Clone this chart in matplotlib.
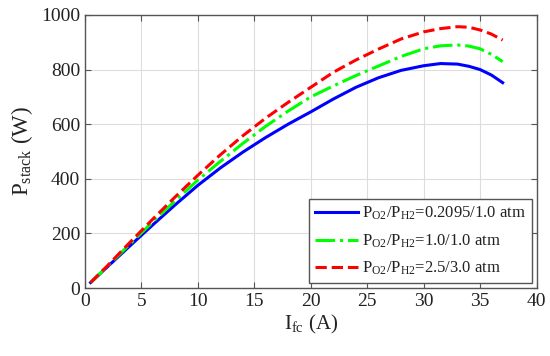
import matplotlib

matplotlib.use("Agg")
import matplotlib.pyplot as plt

plt.rcParams['font.family'] = 'Liberation Serif'
plt.rcParams['mathtext.fontset'] = 'custom'
plt.rcParams['mathtext.rm'] = 'Liberation Serif'
plt.rcParams['mathtext.it'] = 'Liberation Serif:italic'

# Stack current (A)
current = [0.5, 2, 4, 6, 8, 10, 12, 14, 16, 18, 20, 22, 24, 26, 28, 30, 31.5, 33, 34, 35, 36, 37]

# Stack power (W) for each pressure pair
p_low = [20, 78, 155, 231, 305, 376, 440, 498, 551, 600, 645, 692, 735, 770, 797, 814, 822, 820, 812, 800, 780, 752]
p_mid = [20, 80, 162, 242, 320, 395, 464, 530, 592, 648, 700, 740, 778, 813, 848, 876, 887, 890, 886, 876, 856, 829]
p_high = [20, 82, 168, 252, 334, 413, 488, 558, 622, 680, 735, 790, 835, 875, 912, 938, 950, 957, 955, 945, 930, 908]

labels = [
    r'P$_{\mathrm{O2}}$/P$_{\mathrm{H2}}$=0.2095/1.0 atm',
    r'P$_{\mathrm{O2}}$/P$_{\mathrm{H2}}$=1.0/1.0 atm',
    r'P$_{\mathrm{O2}}$/P$_{\mathrm{H2}}$=2.5/3.0 atm',
]

fig = plt.figure(figsize=(5.5, 3.56), dpi=100)
ax = fig.add_axes([0.1545, 0.191, 0.821, 0.767])

ax.plot(current, p_low, color='#0000FF', linestyle='-', linewidth=2.2, label=labels[0])
ax.plot(current, p_mid, color='#00FF00', linestyle='-.', linewidth=2.2, label=labels[1])
ax.plot(current, p_high, color='#FF0000', linestyle='--', linewidth=2.2, label=labels[2])

ax.set_xlim(0, 40)
ax.set_ylim(0, 1000)
ax.set_xticks(range(0, 41, 5))
ax.set_yticks(range(0, 1001, 200))
ax.tick_params(direction='in', top=True, right=True, labelsize=14, length=4,
               color='#555555', labelcolor='#222222')
ax.grid(True, color='#dddddd', linewidth=0.8)
for s in ax.spines.values():
    s.set_color('#555555')
    s.set_linewidth(1.0)

ax.set_xlabel(r'I$_{\mathrm{fc}}$ (A)', fontsize=15, labelpad=2, color='#222222')
ax.set_ylabel(r'P$_{\mathrm{stack}}$ (W)', fontsize=16.5, labelpad=4, color='#222222')

leg = ax.legend(loc='lower right', fontsize=12, handlelength=2.6, labelspacing=0.6,
                borderpad=0.35, handletextpad=0.2, fancybox=False, framealpha=1,
                borderaxespad=0.3)
leg.get_frame().set_edgecolor('#555555')
leg.get_frame().set_linewidth(1.0)
for t in leg.get_texts():
    t.set_color('#222222')

fig.savefig('out.png', dpi=100)
